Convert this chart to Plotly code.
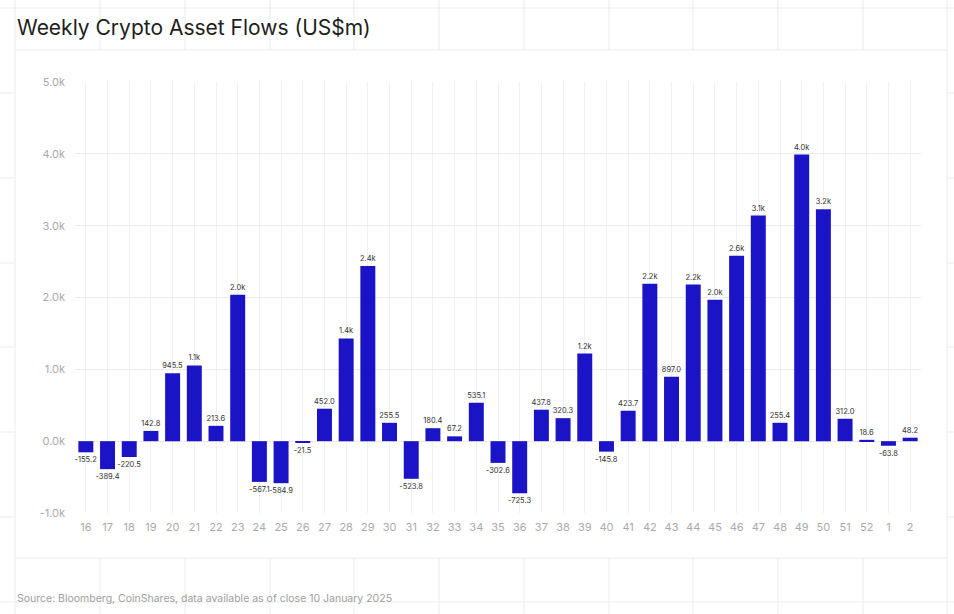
import plotly.graph_objects as go

weeks = ["16", "17", "18", "19", "20", "21", "22", "23", "24", "25", "26", "27", "28",
         "29", "30", "31", "32", "33", "34", "35", "36", "37", "38", "39", "40", "41",
         "42", "43", "44", "45", "46", "47", "48", "49", "50", "51", "52", "1", "2"]
flows = [-155.2, -389.4, -220.5, 142.8, 945.5, 1055, 213.6, 2040, -567.1, -584.9,
         -21.5, 452.0, 1430, 2440, 255.5, -523.8, 180.4, 67.2, 535.1, -302.6,
         -725.3, 437.8, 320.3, 1220, -145.8, 423.7, 2190, 897.0, 2180, 1970,
         2580, 3140, 255.4, 3990, 3230, 312.0, 18.6, -63.8, 48.2]
y_tick_vals = [-1000, 0, 1000, 2000, 3000, 4000, 5000]
y_tick_text = ["-1.0k", "0.0k", "1.0k", "2.0k", "3.0k", "4.0k", "5.0k"]


def fmt(v):
    return f"{v/1000:.1f}k" if abs(v) >= 1000 else f"{v:.1f}"


labels = [fmt(v) for v in flows]

W, H = 954, 614
L, R, T, B = 75, 921, 82, 513


def px(x):
    return (x - L) / (R - L)


def py(y):
    return (B - y) / (B - T)


GRID = "#ececec"
shapes = []


def seg(x0, y0, x1, y1):
    shapes.append(dict(type="line", xref="paper", yref="paper",
                       x0=px(x0), y0=py(y0), x1=px(x1), y1=py(y1),
                       line=dict(color=GRID, width=1), layer="below"))


card_l, card_r, card_t, card_b = 15, 947, 50, 558
hlines = [8, 93, 178, 263, 347, 432, 517, 602]
vlines = [100, 185, 270, 354, 439, 524, 609, 693, 778, 863]
for y in hlines:
    if card_t < y < card_b:
        seg(0, y, card_l, y)
        seg(card_r, y, W, y)
    else:
        seg(0, y, W, y)
for x in vlines:
    seg(x, 0, x, card_t)
    seg(x, card_b, x, H)
seg(card_l, 0, card_l, H)
seg(card_r, 0, card_r, H)
seg(card_l, card_t, card_r, card_t)
seg(card_l, card_b, card_r, card_b)

fig = go.Figure(go.Bar(
    x=weeks, y=flows, text=labels, textposition="outside",
    textfont=dict(size=7.5, color="#333333", family="Inter"),
    constraintext="none", cliponaxis=False,
    marker=dict(color="#1B14C6", line=dict(width=0)),
    hoverinfo="skip",
))

fig.update_layout(
    width=W, height=H, autosize=False,
    margin=dict(l=L, r=W - R, t=T, b=H - B, pad=0),
    paper_bgcolor="white", plot_bgcolor="rgba(0,0,0,0)",
    bargap=0.31, showlegend=False,
    font=dict(family="Inter", color="#aaaaaa"),
    shapes=shapes,
    annotations=[
        dict(text="Weekly Crypto Asset Flows (US$m)", xref="paper", yref="paper",
             x=px(15), y=py(27), xanchor="left", yanchor="middle", showarrow=False,
             font=dict(size=21, color="#1e1e1e", family="Inter")),
        dict(text="Source: Bloomberg, CoinShares, data available as of close 10 January 2025",
             xref="paper", yref="paper", x=px(15), y=py(598), xanchor="left",
             yanchor="middle", showarrow=False,
             font=dict(size=10.5, color="#a0a0a0", family="Inter")),
    ],
)
fig.update_xaxes(type="category", range=[-0.5, len(weeks) - 0.5], showgrid=True,
                 gridcolor="#f0f0f0", gridwidth=1, ticks="", showline=False,
                 zeroline=False, tickfont=dict(size=11, color="#aaaaaa"), ticklabelstandoff=6)
fig.update_yaxes(range=[-1000, 5000], tickvals=y_tick_vals, ticktext=y_tick_text,
                 showgrid=True, gridcolor="#ececec", gridwidth=1, zeroline=False,
                 showline=False, ticks="", tickfont=dict(size=11, color="#aaaaaa"),
                 ticklabelstandoff=9)

fig.write_html("out.html", config={"displayModeBar": False},
               post_script="document.body.style.margin='0';document.body.style.overflow='hidden';")
